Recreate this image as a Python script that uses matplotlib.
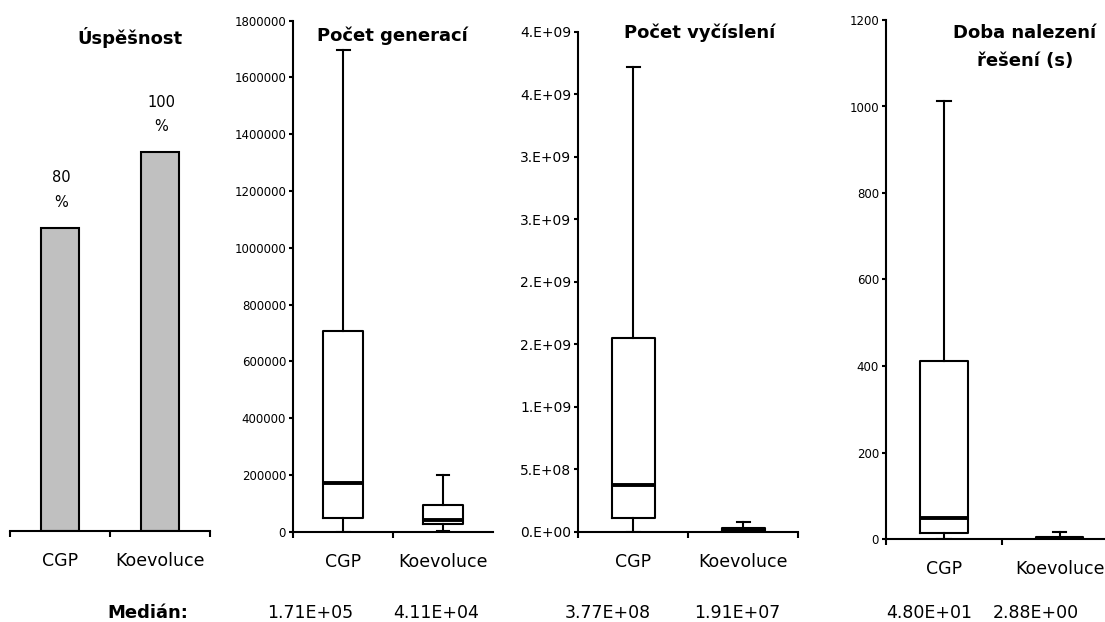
import numpy as np
import matplotlib
matplotlib.use("Agg")
import matplotlib.pyplot as plt
from matplotlib.ticker import FuncFormatter, FixedLocator

# ---- data ----
categories = ["CGP", "Koevoluce"]

success_pct = [80, 100]

# box plot summaries: whislo, q1, med, q3, whishi
gen_cgp = [0, 49000, 171000, 705000, 1695000]
gen_koev = [1500, 25700, 41100, 92500, 199000]

eval_cgp = [0, 1.1e8, 3.77e8, 1.55e9, 3.72e9]
eval_koev = [0, 5.0e6, 1.91e7, 3.2e7, 8.0e7]

time_cgp = [1, 15, 48.0, 412, 1013]
time_koev = [0.3, 1.0, 2.88, 5.0, 16]

titles = ["Úspěšnost", "Počet generací", "Počet vyčíslení", "Doba nalezení\nřešení (s)"]
median_label = "Medián:"

W, H = 1105, 622


def box(l, r, b, t):
    # pixel box -> figure fraction
    return [l / W, 1 - b / H, (r - l) / W, (b - t) / H]


def stats(vals):
    lo, q1, med, q3, hi = vals
    return dict(whislo=lo, q1=q1, med=med, q3=q3, whishi=hi)


def excel_sci(v, pos):
    # mimics Excel's "0.E+00" number format (round half up)
    if v == 0:
        return "0.E+00"
    e = int(np.floor(np.log10(abs(v))))
    m = int(np.floor(v / 10 ** e + 0.5))
    if m == 10:
        m, e = 1, e + 1
    return f"{m}.E+{e:02d}"


def style_x(ax, xticks):
    ax.set_xlim(-0.5, 1.5)
    ax.xaxis.set_major_locator(FixedLocator(xticks))
    ax.xaxis.set_minor_locator(FixedLocator([0, 1]))
    ax.set_xticklabels([""] * len(xticks))
    ax.set_xticklabels(categories, minor=True)
    ax.tick_params(axis="x", which="major", direction="out", length=4.5, width=1.5)
    ax.tick_params(axis="x", which="minor", length=0, pad=15, labelsize=12.5)
    for s in ["top", "right"]:
        ax.spines[s].set_visible(False)
    ax.spines["bottom"].set_linewidth(1.5)
    ax.spines["left"].set_linewidth(1.5)
    ax.tick_params(axis="y", direction="out", length=3, width=1.5, pad=2)


def draw_box(ax, a, b, width, cap):
    ax.bxp([stats(a), stats(b)], positions=[0, 1], widths=width,
           showfliers=False, manage_ticks=False, capwidths=cap,
           boxprops=dict(color="black", linewidth=1.5),
           whiskerprops=dict(color="black", linewidth=1.5),
           capprops=dict(color="black", linewidth=1.5),
           medianprops=dict(color="black", linewidth=2.8))


fig = plt.figure(figsize=(W / 100, H / 100), dpi=100)
fig.patch.set_facecolor("white")

# ---- panel 1: success rate bars ----
ax1 = fig.add_axes(box(10, 210, 530.7, 20))
bars = ax1.bar([0, 1], success_pct, width=0.38, color="#c0c0c0",
               edgecolor="black", linewidth=1.5)
for rect, v in zip(bars, success_pct):
    ax1.annotate(f"{v}\n%", (rect.get_x() + rect.get_width() / 2, v),
                 xytext=(1, 13), textcoords="offset points",
                 ha="center", va="bottom", fontsize=10.5, linespacing=1.8)
ax1.set_ylim(0, 135)
style_x(ax1, [-0.5, 0.5, 1.5])
ax1.spines["left"].set_visible(False)
ax1.set_yticks([])

# ---- panel 2: generations ----
ax2 = fig.add_axes(box(293, 493, 531.7, 20.5))
draw_box(ax2, gen_cgp, gen_koev, 0.4, 0.13)
ax2.set_ylim(0, 1800000)
ax2.set_yticks(np.arange(0, 1800001, 200000))
ax2.yaxis.set_major_formatter(FuncFormatter(lambda v, p: f"{int(v)}"))
style_x(ax2, [-0.5, 0.5])
ax2.tick_params(axis="y", labelsize=8.5)

# ---- panel 3: evaluations ----
ax3 = fig.add_axes(box(578.3, 798.3, 531.7, 31.7))
draw_box(ax3, eval_cgp, eval_koev, 0.39, 0.12)
ax3.set_ylim(0, 4.0e9)
ax3.set_yticks(np.arange(0, 4.0e9 + 1, 5.0e8))
ax3.yaxis.set_major_formatter(FuncFormatter(excel_sci))
style_x(ax3, [-0.5, 0.5, 1.5])
ax3.tick_params(axis="y", labelsize=10)

# ---- panel 4: time ----
ax4 = fig.add_axes(box(886, 1117.4, 539, 20))
draw_box(ax4, time_cgp, time_koev, 0.41, 0.115)
ax4.set_ylim(0, 1200)
ax4.set_yticks(np.arange(0, 1201, 200))
style_x(ax4, [-0.5, 0.5, 1.5])
ax4.tick_params(axis="y", labelsize=8.5)

# ---- titles ----
title_pos = [(130, 38), (392, 36), (700, 33), (1025, 47)]
for t, (x, y) in zip(titles, title_pos):
    fig.text(x / W, 1 - y / H, t, ha="center", va="center",
             fontsize=13, fontweight="bold", linespacing=1.65)

# ---- median row ----
medians = [gen_cgp[2], gen_koev[2], eval_cgp[2], eval_koev[2],
           time_cgp[2], time_koev[2]]
median_x = [310, 436, 608, 737, 929, 1036]
fig.text(147.5 / W, 1 - 613 / H, median_label, ha="center", va="center",
         fontsize=13, fontweight="bold")
for m, x in zip(medians, median_x):
    fig.text(x / W, 1 - 613 / H, f"{m:.2E}", ha="center", va="center",
             fontsize=12.5)

fig.savefig("out.png", dpi=100, facecolor="white")
